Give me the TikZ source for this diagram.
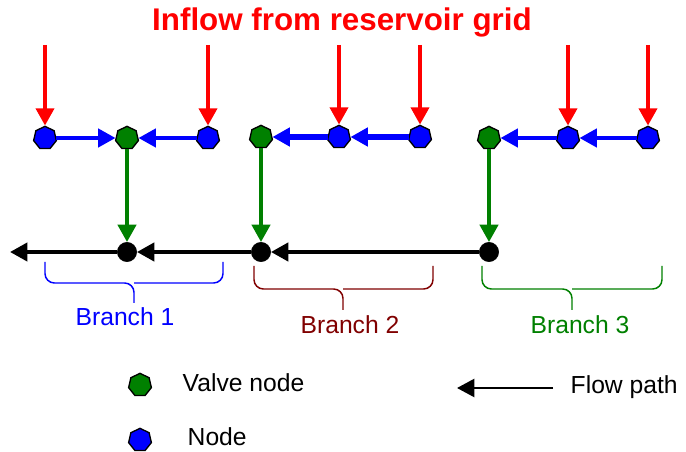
\documentclass[tikz,border=0pt]{standalone}
\usepackage{fontspec}
\setmainfont{Liberation Sans}
\usetikzlibrary{positioning,arrows.meta,shapes.geometric}
\definecolor{inred}{RGB}{255,0,0}
\definecolor{ndblue}{RGB}{0,0,255}
\definecolor{vgreen}{RGB}{0,128,0}
\definecolor{brred}{RGB}{128,0,0}

\begin{document}
\begin{tikzpicture}[
  x=0.75pt, y=-0.75pt,
  font=\fontsize{18.5}{22}\selectfont,
  >={Triangle[length=13pt,width=13.5pt]},
  gridnode/.style={regular polygon, regular polygon sides=7, draw=black, line width=1pt, minimum size=17.5pt, inner sep=0pt},
  bnode/.style={gridnode, fill=ndblue},
  vnode/.style={gridnode, fill=vgreen},
  jnode/.style={circle, draw=black, fill=black, minimum size=14.5pt, inner sep=0pt},
  inflow/.style={->, draw=inred, line width=3pt},
  feedmap/.style={->, draw=ndblue, line width=3pt},
  valvemap/.style={->, draw=vgreen, line width=3pt},
  mainmap/.style={->, draw=black, line width=3pt},
  bracepath/.style={line width=1.1pt, rounded corners=7pt}
]
  \useasboundingbox (0,0) rectangle (686,452);
  % title
  \node[font=\fontsize{23.5}{28}\selectfont\bfseries, text=inred] (title) at (342,22) {Inflow from reservoir grid};
  % branch 1
  \node[bnode] (b11) at (45,138) {};
  \node[vnode] (v1) at (127,138) {};
  \node[bnode] (b12) at (208,138) {};
  \node[jnode] (j1) at (127,252) {};
  % branch 2
  \node[vnode] (v2) at (261,137) {};
  \node[bnode] (b21) at (339,137) {};
  \node[bnode] (b22) at (420,137) {};
  \node[jnode] (j2) at (261,252) {};
  % branch 3
  \node[vnode] (v3) at (489,138) {};
  \node[bnode] (b31) at (568,138) {};
  \node[bnode] (b32) at (648,138) {};
  \node[jnode] (j3) at (489,252) {};
  \coordinate (outlet) at (10,252);
  % inflow arrows
  \coordinate (in11) at (45,45);
  \coordinate (in12) at (208,45);
  \coordinate (in21) at (339,45);
  \coordinate (in22) at (420,45);
  \coordinate (in31) at (568,45);
  \coordinate (in32) at (648,45);
  \draw[inflow] (in11) -- (b11);
  \draw[inflow] (in12) -- (b12);
  \draw[inflow] (in21) -- (b21);
  \draw[inflow] (in22) -- (b22);
  \draw[inflow] (in31) -- (b31);
  \draw[inflow] (in32) -- (b32);
  % feeds to valve nodes
  \draw[feedmap] (b11) -- (v1);
  \draw[feedmap] (b12) -- (v1);
  \draw[feedmap, line width=3.8pt] (b21) -- (v2);
  \draw[feedmap, line width=3.8pt] (b22) -- (b21);
  \draw[feedmap] (b31) -- (v3);
  \draw[feedmap] (b32) -- (b31);
  \draw[valvemap] (v1) -- (j1);
  \draw[valvemap] (v2) -- (j2);
  \draw[valvemap] (v3) -- (j3);
  % main flow path
  \draw[mainmap] (j3) -- (j2);
  \draw[mainmap] (j2) -- (j1);
  \draw[mainmap] (j1) -- (outlet);
  % braces
  \draw[bracepath, draw=ndblue] (45,262) -- (45,283) -- (134,283) -- (134,303);
  \draw[bracepath, draw=ndblue] (223,262) -- (223,283) -- (134,283);
  \node[text=ndblue] (lab1) at (125,317) {Branch 1};
  \draw[bracepath, draw=brred] (254,266) -- (254,289) -- (343,289) -- (343,310);
  \draw[bracepath, draw=brred] (433,266) -- (433,289) -- (343,289);
  \node[text=brred] (lab2) at (350,325) {Branch 2};
  \draw[bracepath, draw=vgreen] (482,266) -- (482,289) -- (572,289) -- (572,310);
  \draw[bracepath, draw=vgreen] (662,266) -- (662,289) -- (572,289);
  \node[text=vgreen] (lab3) at (580,325) {Branch 3};
  % legend
  \node[vnode] (keyv) at (140,385) {};
  \node[anchor=west] (keyvt) at (178,383) {Valve node};
  \node[bnode] (keyb) at (140,440) {};
  \node[anchor=west] (keybt) at (183,437) {Node};
  \coordinate (fpA) at (553,388);
  \coordinate (fpB) at (457,388);
  \draw[->, line width=1.8pt] (fpA) -- (fpB);
  \node[anchor=west] (fpt) at (566,387) {Flow path};
\end{tikzpicture}
\end{document}
